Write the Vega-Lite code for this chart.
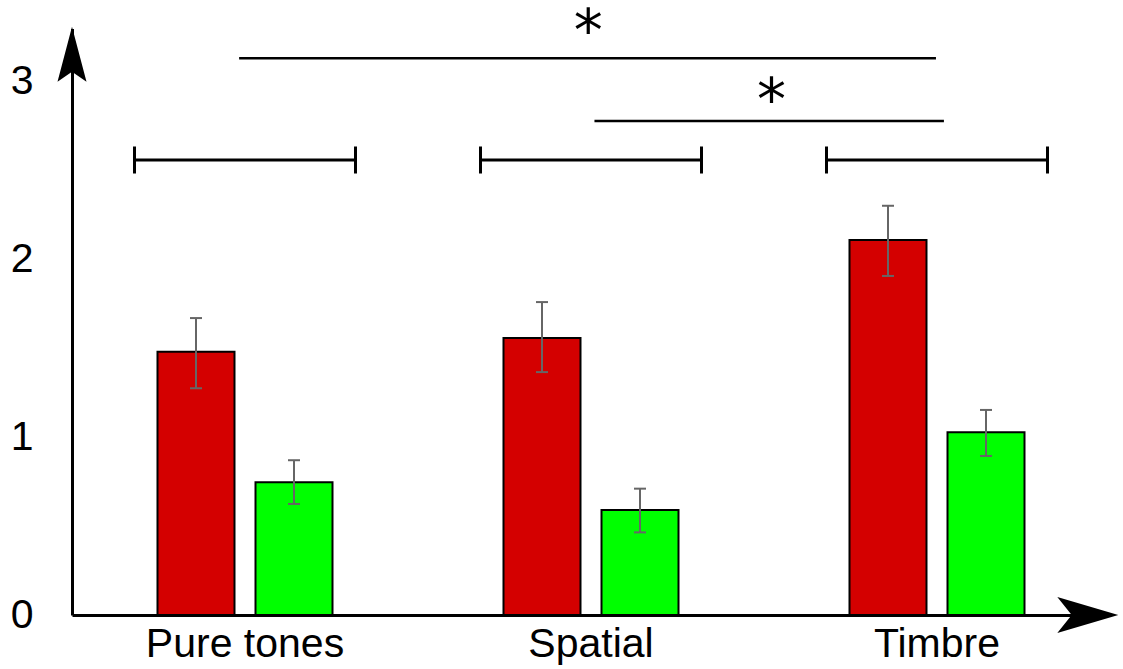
{
  "$schema": "https://vega.github.io/schema/vega-lite/v6.json",
  "width": 1038,
  "height": 586.4,
  "autosize": {"type": "none"},
  "padding": {"left": 72, "top": 28.6, "right": 13, "bottom": 54},
  "background": "white",
  "config": {
    "view": {"stroke": null},
    "axis": {"grid": false, "ticks": false, "domainColor": "black", "domainWidth": 3, "labelFont": "Liberation Sans", "labelFontSize": 41, "labelColor": "black", "labelLimit": 500},
    "axisX": {"labelPadding": 9, "labelAngle": 0},
    "axisY": {"labelPadding": 39}
  },
  "datasets": {
    "bars": [
      {"group": "Pure tones", "series": "Group A", "value": 1.482, "lo": 1.276, "hi": 1.671},
      {"group": "Pure tones", "series": "Group B", "value": 0.747, "lo": 0.625, "hi": 0.871},
      {"group": "Spatial", "series": "Group A", "value": 1.559, "lo": 1.367, "hi": 1.761},
      {"group": "Spatial", "series": "Group B", "value": 0.591, "lo": 0.465, "hi": 0.711},
      {"group": "Timbre", "series": "Group A", "value": 2.110, "lo": 1.908, "hi": 2.303},
      {"group": "Timbre", "series": "Group B", "value": 1.028, "lo": 0.895, "hi": 1.154}
    ],
    "brackets": [
      {"group": "Pure tones", "level": 2.561},
      {"group": "Spatial", "level": 2.561},
      {"group": "Timbre", "level": 2.561}
    ]
  },
  "layer": [
    {
      "data": {"name": "bars"},
      "mark": {"type": "bar", "stroke": "black", "strokeWidth": 2, "opacity": 1},
      "encoding": {
        "x": {"field": "group", "type": "nominal", "title": null, "scale": {"domain": ["Pure tones", "Spatial", "Timbre"], "paddingInner": 0, "paddingOuter": 0}},
        "xOffset": {"field": "series", "type": "nominal", "scale": {"domain": ["Group A", "Group B"], "paddingInner": 0.2143, "paddingOuter": 0.8724}},
        "y": {"field": "value", "type": "quantitative", "title": null, "scale": {"domain": [0, 3.3], "nice": false, "zero": true}, "axis": {"values": [0, 1, 2, 3], "format": "d"}},
        "color": {"field": "series", "type": "nominal", "scale": {"domain": ["Group A", "Group B"], "range": ["#d40000", "#00ff00"]}, "legend": null}
      }
    },
    {
      "data": {"name": "bars"},
      "mark": {"type": "rule", "color": "#666666", "strokeWidth": 2},
      "encoding": {
        "x": {"field": "group", "type": "nominal", "title": null},
        "xOffset": {"field": "series", "type": "nominal"},
        "y": {"field": "lo", "type": "quantitative", "title": null},
        "y2": {"field": "hi"}
      }
    },
    {
      "data": {"name": "bars"},
      "mark": {"type": "tick", "color": "#666666", "size": 12, "thickness": 2, "opacity": 1},
      "encoding": {
        "x": {"field": "group", "type": "nominal", "title": null},
        "xOffset": {"field": "series", "type": "nominal"},
        "y": {"field": "lo", "type": "quantitative", "title": null}
      }
    },
    {
      "data": {"name": "bars"},
      "mark": {"type": "tick", "color": "#666666", "size": 12, "thickness": 2, "opacity": 1},
      "encoding": {
        "x": {"field": "group", "type": "nominal", "title": null},
        "xOffset": {"field": "series", "type": "nominal"},
        "y": {"field": "hi", "type": "quantitative", "title": null}
      }
    },
    {
      "data": {"name": "brackets"},
      "mark": {"type": "point", "shape": "M-1,-0.122L-1,0.122M-1,0L1,0M1,-0.122L1,0.122", "size": 48841, "filled": false, "color": "black", "strokeWidth": 3, "opacity": 1},
      "encoding": {
        "x": {"field": "group", "type": "nominal", "title": null},
        "y": {"field": "level", "type": "quantitative", "title": null}
      }
    },
    {
      "data": {"values": [{"from": "Pure tones", "to": "Timbre", "level": 3.133}]},
      "mark": {"type": "rule", "color": "black", "strokeWidth": 2.5},
      "encoding": {
        "x": {"field": "from", "type": "nominal", "bandPosition": 0.483, "title": null},
        "x2": {"field": "to", "bandPosition": 0.497},
        "y": {"field": "level", "type": "quantitative", "title": null}
      }
    },
    {
      "data": {"values": [{"from": "Spatial", "to": "Timbre", "level": 2.78}]},
      "mark": {"type": "rule", "color": "black", "strokeWidth": 2.5},
      "encoding": {
        "x": {"field": "from", "type": "nominal", "bandPosition": 0.51, "title": null},
        "x2": {"field": "to", "bandPosition": 0.52},
        "y": {"field": "level", "type": "quantitative", "title": null}
      }
    },
    {
      "data": {"values": [{"from": "Pure tones", "to": "Timbre", "level": 3.133, "label": "*"}]},
      "mark": {"type": "text", "font": "DejaVu Sans", "fontSize": 58, "color": "black", "baseline": "alphabetic", "align": "center", "dy": -7},
      "encoding": {
        "x": {"field": "from", "type": "nominal", "bandPosition": 1.492, "title": null},
        "y": {"field": "level", "type": "quantitative", "title": null},
        "text": {"field": "label"}
      }
    },
    {
      "data": {"values": [{"from": "Spatial", "to": "Timbre", "level": 2.78, "label": "*"}]},
      "mark": {"type": "text", "font": "DejaVu Sans", "fontSize": 58, "color": "black", "baseline": "alphabetic", "align": "center", "dy": -1},
      "encoding": {
        "x": {"field": "from", "type": "nominal", "bandPosition": 1.022, "title": null},
        "y": {"field": "level", "type": "quantitative", "title": null},
        "text": {"field": "label"}
      }
    },
    {
      "data": {"values": [{}]},
      "mark": {"type": "point", "shape": "M0,-0.19L1.45,5.31L0,4.31L-1.45,5.31Z", "size": 400, "filled": true, "color": "black", "strokeWidth": 0, "opacity": 1},
      "encoding": {
        "x": {"datum": "Pure tones", "bandPosition": 0},
        "y": {"datum": 3.3}
      }
    },
    {
      "data": {"values": [{}]},
      "mark": {"type": "point", "shape": "M0.83,0L-5.27,-1.8L-3.83,0L-5.27,1.8Z", "size": 400, "filled": true, "color": "black", "strokeWidth": 0, "opacity": 1},
      "encoding": {
        "x": {"datum": "Timbre", "bandPosition": 1},
        "y": {"datum": 0}
      }
    }
  ]
}
